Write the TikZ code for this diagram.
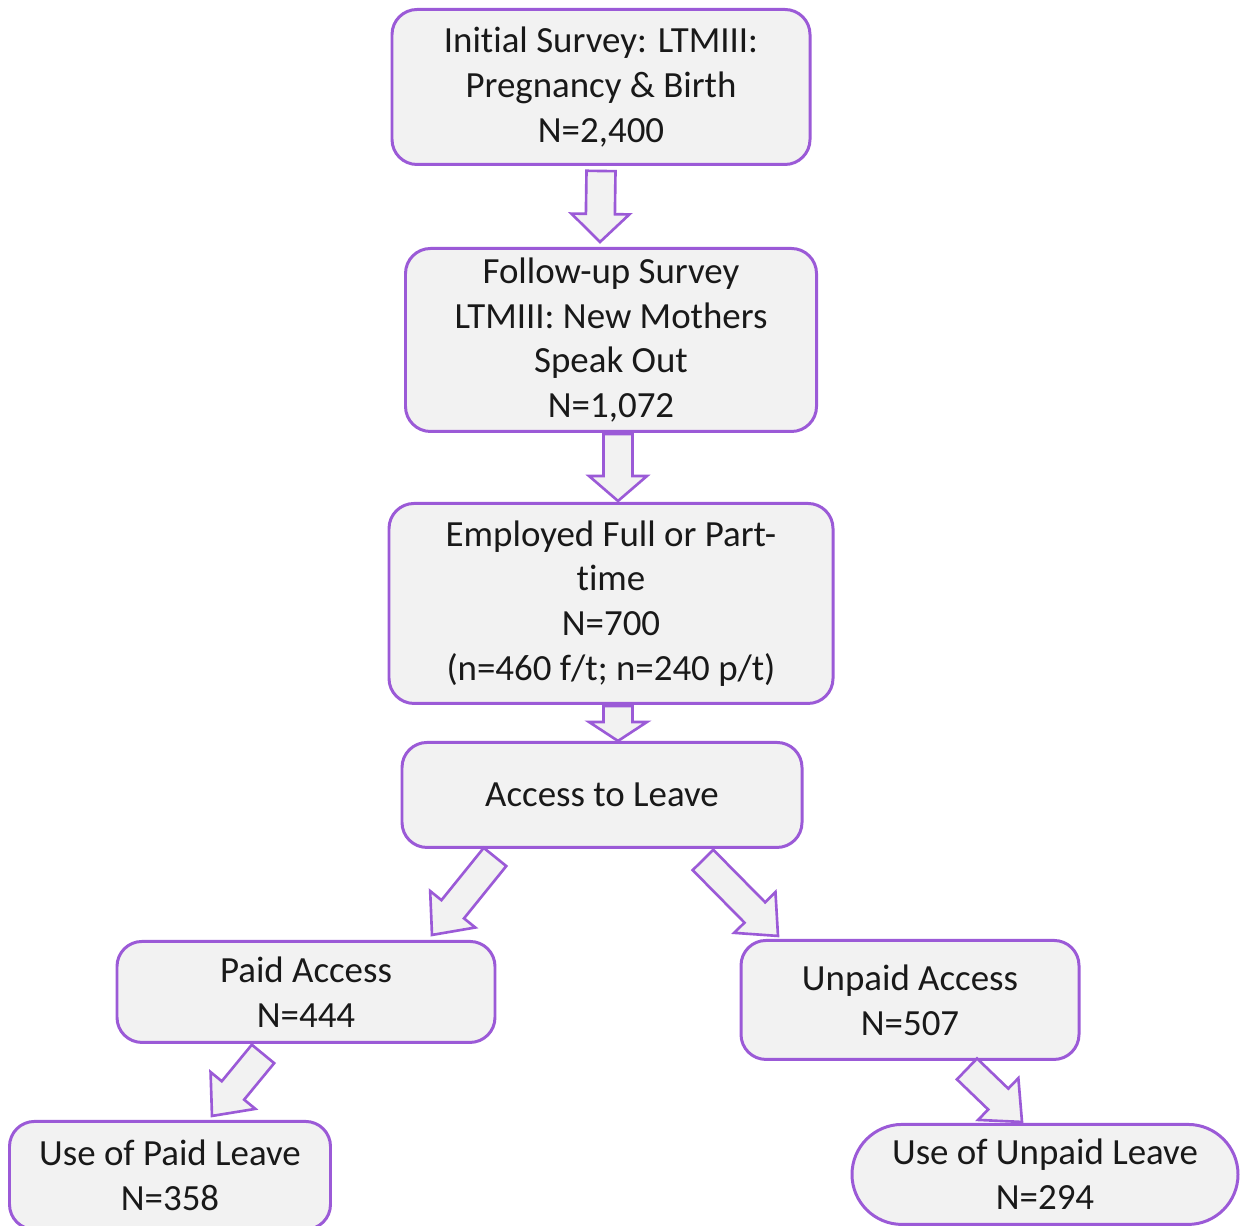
\documentclass[tikz,border=0pt]{standalone}
\usepackage{fontspec}
\setmainfont{Carlito}[Ligatures=NoCommon]
\usepackage{tikz}
\usetikzlibrary{positioning}
\usetikzlibrary{calc}
\definecolor{boxline}{RGB}{155,90,215}
\definecolor{boxfill}{RGB}{242,242,242}
\tikzset{
  box/.style={draw=boxline,fill=boxfill,line width=1.7pt,rounded corners=0.5cm,
    align=center,text=black!90,font=\fontsize{21}{25.5}\selectfont,inner sep=0pt},
  blk/.style={draw=boxline,fill=boxfill,line width=1.5pt,line join=miter}
}
% hollow block arrow from #2 to #3, #1 = head length
\newcommand{\blockarrow}[3][0.6cm]{%
  \coordinate (as) at (#2);
  \coordinate (ae) at (#3);
  \coordinate (hb) at ($(ae)!#1!(as)$);
  \draw[blk] ($(as)!0.29cm!90:(ae)$) -- ($(hb)!0.29cm!90:(ae)$)
    -- ($(hb)!0.58cm!90:(ae)$) -- (ae) -- ($(hb)!0.58cm!-90:(ae)$)
    -- ($(hb)!0.29cm!-90:(ae)$) -- ($(as)!0.29cm!-90:(ae)$) -- cycle;
}

\begin{document}
\begin{tikzpicture}
\useasboundingbox (0,0) rectangle (24.96,-24.52);

\node [box,minimum width=8.36cm,minimum height=3.1cm] (init) at (12.02,-1.74)
  {Initial Survey: LTMIII:\\Pregnancy \& Birth\\N=2,400};
\node [box,minimum width=8.22cm,minimum height=3.66cm,below=1.62cm of init,xshift=0.2cm] (follow)
  {Follow-up Survey\\LTMIII: New Mothers\\Speak Out\\N=1,072};
\node [box,minimum width=8.88cm,minimum height=4cm,below=1.38cm of follow] (employed)
  {Employed Full or Part-\\time\\N=700\\(n=460 f/t; n=240 p/t)};
\node [box,minimum width=8cm,minimum height=2.1cm,below=0.72cm of employed,xshift=-0.18cm] (access)
  {Access to Leave};
\node [box,minimum width=7.56cm,minimum height=2.02cm,below=1.82cm of access,xshift=-5.92cm] (paid)
  {Paid Access\\N=444};
\node [box,minimum width=6.76cm,minimum height=2.38cm,below=1.8cm of access,xshift=6.16cm] (unpaid)
  {Unpaid Access\\N=507};
\node [box,minimum width=6.42cm,minimum height=2.16cm,below=1.52cm of paid,xshift=-2.72cm] (usepaid)
  {Use of Paid Leave\\N=358};
\node [box,rounded corners=1cm,minimum width=7.72cm,minimum height=2cm,below=1.24cm of unpaid,xshift=2.7cm] (useunpaid)
  {Use of Unpaid Leave\\N=294};

% arrows
\blockarrow[0.56cm]{$(init.south)+(0,-0.1)$}{$(follow.north)+(-0.22,0.1)$}
\blockarrow[0.5cm]{$(follow.south)+(0.14,-0.02)$}{$(employed.north)+(0.14,0.02)$}
\blockarrow[0.38cm]{$(employed.south)+(0.14,-0.02)$}{$(access.north)+(0.32,0)$}
\blockarrow[0.66cm]{$(access.south)+(-2.14,-0.16)$}{$(paid.north)+(2.52,0.1)$}
\blockarrow[0.66cm]{$(access.south)+(2.02,-0.22)$}{$(unpaid.north)+(-2.64,0.06)$}
\blockarrow[0.66cm]{$(paid.south)+(-0.86,-0.2)$}{$(usepaid.north)+(0.84,0.08)$}
\blockarrow[0.66cm]{$(unpaid.south)+(1.14,-0.16)$}{$(useunpaid.north)+(-0.46,0.02)$}
\end{tikzpicture}
\end{document}
